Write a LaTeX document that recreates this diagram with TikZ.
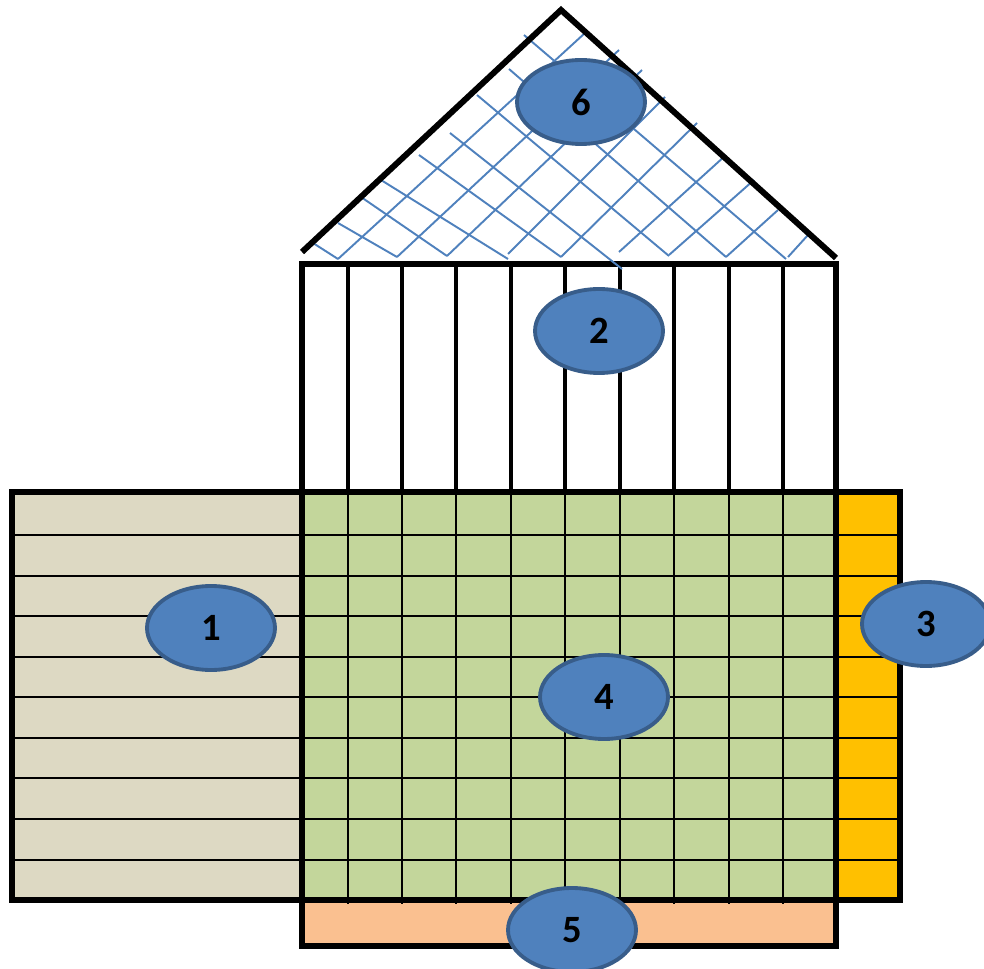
\documentclass[tikz,border=0pt]{standalone}
\usepackage{fontspec}
\setmainfont{Carlito}
\usetikzlibrary{shapes.geometric}

\definecolor{sand}{HTML}{DDD9C3}
\definecolor{moss}{HTML}{C3D69B}
\definecolor{amber}{HTML}{FFC000}
\definecolor{peach}{HTML}{FAC090}
\definecolor{steel}{HTML}{4F81BD}
\definecolor{steeldark}{HTML}{385D8A}

\tikzset{frame/.style={line width=3.2pt}}
\tikzset{gridline/.style={line width=1pt}}
\tikzset{slat/.style={line width=2.8pt}}
\tikzset{hatch/.style={steel, line width=1.1pt}}
\tikzset{badge/.style={ellipse, draw=steeldark, fill=steel, line width=2.2pt,
  minimum width=2.56cm, minimum height=1.68cm, inner sep=0pt,
  font=\fontsize{22}{26}\selectfont\bfseries}}

\begin{document}
\begin{tikzpicture}[x=0.02cm, y=-0.02cm]%[scale=0.5]
  \useasboundingbox (0,0) rectangle (984,969);
  \clip (0,0) rectangle (984,969);
  % panels
  \fill[sand] (12,492) rectangle (302,900);
  \fill[moss] (302,492) rectangle (836,900);
  \fill[amber] (836,492) rectangle (900,900);
  \fill[peach] (302,900) rectangle (836,946);
  % rows and columns
  \foreach \y in {535,576,616,657,697,738,778,819,860}
    \draw[gridline] (12,\y) -- (900,\y);
  \foreach \x in {348,402,456,511,565,620,674,729,783} {
    \draw[gridline] (\x,492) -- (\x,904);
    \draw[slat] (\x,264) -- (\x,492);
  }
  \draw[frame] (12,492) rectangle (900,900);
  \draw[frame] (302,264) rectangle (836,946);
  \draw[frame] (302,492) -- (836,492) (302,900) -- (836,900)
               (302,492) -- (302,900) (836,492) -- (836,900);
  % roof hatching
  \foreach \a/\b/\c/\d in {313/243/338/259, 338/223/397/257, 361/197/447/256,
      381/180/508/259, 419/155/561/257, 450/133/622/269, 477/95/669/256,
      509/69/726/257, 524/35/786/259}
    \draw[hatch] (\a,\b) -- (\c,\d);
  \foreach \a/\b/\c/\d in {338/259/585/33, 397/257/619/50, 447/256/642/70,
      508/254/665/97, 561/257/697/123, 619/252/726/155, 669/255/754/180,
      726/257/778/210, 788/257/808/235}
    \draw[hatch] (\a,\b) -- (\c,\d);
  \draw[frame, line width=3.4pt, line join=miter] (302,252) -- (561,10) -- (836,258);
  % numbered badges
  \node[badge] (six) at (581,102) {6};
  \node[badge] (two) at (599,331) {2};
  \node[badge] (one) at (211,628) {1};
  \node[badge] (three) at (926,624) {3};
  \node[badge] (four) at (604,697) {4};
  \node[badge] (five) at (572,930) {5};
\end{tikzpicture}
\end{document}
